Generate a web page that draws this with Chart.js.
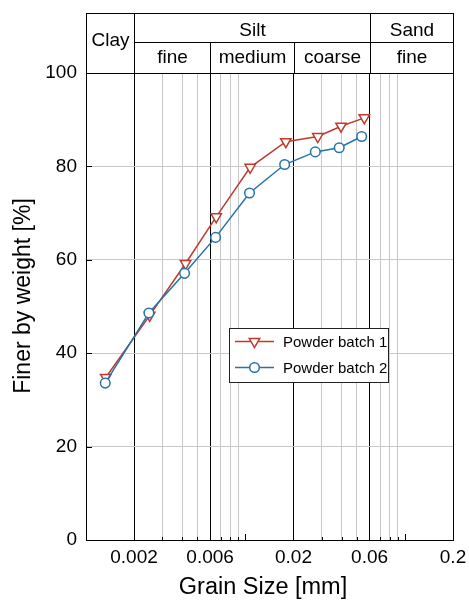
<!DOCTYPE html>
<html>
<head>
<meta charset="utf-8">
<script src="https://cdn.jsdelivr.net/npm/chart.js@4/dist/chart.umd.min.js"></script>
<style>
  body { margin: 0; background: #fff; }
</style>
</head>
<body>
<canvas id="chart_dest" width="469" height="602"></canvas>
<script>
// dataset
var seriesNames = ["Powder batch 1", "Powder batch 2"];
var sizeBatch1 = [0.00133, 0.00251, 0.00421, 0.00655, 0.0107, 0.0179, 0.0284, 0.0397, 0.0556];
var finerBatch1 = [34.8, 48.1, 59.2, 69.2, 79.8, 85.3, 86.4, 88.6, 90.4];
var sizeBatch2 = [0.00132, 0.00248, 0.00415, 0.00649, 0.0106, 0.0176, 0.0274, 0.0387, 0.0535];
var finerBatch2 = [33.6, 48.6, 57.1, 64.8, 74.3, 80.4, 83.1, 84.0, 86.4];

// x axis ticks
var xTickValues = [0.002, 0.006, 0.02, 0.06, 0.2];
var xTickLabels = ["0.002", "0.006", "0.02", "0.06", "0.2"];
var xClassLines = [0.002, 0.006, 0.02, 0.06];
var xMinorLines = [0.003, 0.004, 0.005, 0.007, 0.008, 0.009, 0.03, 0.04, 0.05, 0.07, 0.08, 0.09];
var xDecadeTicks = [0.001, 0.01, 0.1];
var yTickValues = [0, 20, 40, 60, 80, 100];

// soil classes for the header table
var mainClasses = ["Clay", "Silt", "Sand"];
var mainBounds = [0.001, 0.002, 0.06, 0.2];
var subClasses = ["fine", "medium", "coarse", "fine"];
var subBounds = [0.002, 0.006, 0.02, 0.06, 0.2];

var xTitle = "Grain Size [mm]";
var yTitle = "Finer by weight [%]";

var red = "#bf3a2b";
var blue = "#2473aa";
var gray = "#c8c8c8";
var FONT = "Liberation Sans";

function has(list, v) {
  return list.some(function (x) { return Math.abs(x - v) < 1e-9; });
}

function points(xs, ys) {
  return xs.map(function (x, i) { return { x: x, y: ys[i] }; });
}

Chart.defaults.font.family = FONT;
Chart.defaults.color = "#000";

// header table above the plot, and the axis titles
var headerPlugin = {
  id: "header",
  afterDraw: function (chart) {
    var ctx = chart.ctx;
    var xs = chart.scales.x;
    var a = chart.chartArea;
    var top = 13, mid = 42, bot = a.top;
    function px(v) { return Math.round(xs.getPixelForValue(v)) + 0.5; }
    function line(x1, y1, x2, y2) {
      ctx.beginPath(); ctx.moveTo(x1, y1); ctx.lineTo(x2, y2); ctx.stroke();
    }
    ctx.save();
    ctx.strokeStyle = "#000";
    ctx.lineWidth = 1;
    var L = px(mainBounds[0]), R = px(mainBounds[mainBounds.length - 1]);
    line(L, top + 0.5, R, top + 0.5);
    line(px(mainBounds[1]), mid + 0.5, R, mid + 0.5);
    mainBounds.forEach(function (b) { line(px(b), top, px(b), bot); });
    subBounds.forEach(function (b) { line(px(b), mid, px(b), bot); });

    ctx.fillStyle = "#000";
    ctx.font = "19px '" + FONT + "'";
    ctx.textAlign = "center";
    ctx.textBaseline = "middle";
    mainClasses.forEach(function (name, i) {
      var cx = (px(mainBounds[i]) + px(mainBounds[i + 1])) / 2;
      var cy = i === 0 ? 41 : 30.5;
      ctx.fillText(name, cx, cy);
    });
    subClasses.forEach(function (name, i) {
      var cx = (px(subBounds[i]) + px(subBounds[i + 1])) / 2;
      ctx.fillText(name, cx, 57.5);
    });

    // axis titles
    ctx.font = "23.5px '" + FONT + "'";
    ctx.fillText(xTitle, 263, 588);
    ctx.translate(23.5, 296);
    ctx.rotate(-Math.PI / 2);
    ctx.font = "23px '" + FONT + "'";
    ctx.fillText(yTitle, 0, 0);
    ctx.restore();
  }
};

// inward tick marks and the legend box
var ticksLegendPlugin = {
  id: "ticksLegend",
  afterDraw: function (chart) {
    var ctx = chart.ctx;
    var xs = chart.scales.x, ys = chart.scales.y;
    var a = chart.chartArea;
    ctx.save();
    ctx.strokeStyle = "#000";
    ctx.lineWidth = 1;
    xDecadeTicks.forEach(function (v) {
      var x = Math.round(xs.getPixelForValue(v)) + 0.5;
      ctx.beginPath(); ctx.moveTo(x, a.bottom); ctx.lineTo(x, a.bottom - 6); ctx.stroke();
    });
    xMinorLines.forEach(function (v) {
      var x = Math.round(xs.getPixelForValue(v)) + 0.5;
      ctx.beginPath(); ctx.moveTo(x, a.bottom); ctx.lineTo(x, a.bottom - 3); ctx.stroke();
    });
    yTickValues.forEach(function (v) {
      var y = Math.round(ys.getPixelForValue(v)) + 0.5;
      ctx.beginPath(); ctx.moveTo(a.left, y); ctx.lineTo(a.left + 6, y); ctx.stroke();
    });

    // legend
    var bx = 229.5, by = 328.5, bw = 159, bh = 54;
    ctx.fillStyle = "#fff";
    ctx.fillRect(bx, by, bw, bh);
    ctx.strokeStyle = "#222";
    ctx.strokeRect(bx, by, bw, bh);
    ctx.font = "15px '" + FONT + "'";
    ctx.textAlign = "left";
    ctx.textBaseline = "middle";
    chart.data.datasets.forEach(function (ds, i) {
      var y = 341.5 + i * 26;
      ctx.strokeStyle = ds.borderColor;
      ctx.lineWidth = ds.borderWidth;
      ctx.beginPath(); ctx.moveTo(235, y); ctx.lineTo(274, y); ctx.stroke();
      ctx.fillStyle = "#fff";
      Chart.helpers.drawPoint(ctx, {
        pointStyle: ds.pointStyle,
        rotation: ds.pointRotation || 0,
        radius: ds.pointRadius,
        borderWidth: ds.pointBorderWidth
      }, 254.5, y);
      ctx.fillStyle = "#000";
      ctx.fillText(ds.label, 283, y + 1);
    });
    ctx.restore();
  }
};

var data = {
  datasets: [
    {
      label: seriesNames[0],
      data: points(sizeBatch1, finerBatch1),
      borderColor: red,
      backgroundColor: "#fff",
      borderWidth: 1.5,
      pointStyle: "triangle",
      pointRotation: 180,
      pointRadius: 6,
      pointBorderWidth: 1.5,
      pointBackgroundColor: "#fff",
      pointBorderColor: red,
      order: 1
    },
    {
      label: seriesNames[1],
      data: points(sizeBatch2, finerBatch2),
      borderColor: blue,
      backgroundColor: "#fff",
      borderWidth: 1.5,
      pointStyle: "circle",
      pointRadius: 4.8,
      pointBorderWidth: 1.5,
      pointBackgroundColor: "#fff",
      pointBorderColor: blue,
      order: 0
    }
  ]
};

var options = {
  responsive: false,
  animation: false,
  devicePixelRatio: 1,
  layout: { padding: { top: 73, right: 16, left: 0, bottom: 0 } },
  plugins: { legend: { display: false }, tooltip: { enabled: false } },
  scales: {
    x: {
      type: "logarithmic",
      min: 0.001,
      max: 0.2,
      afterBuildTicks: function (scale) {
        var vals = xDecadeTicks.concat(xClassLines, xMinorLines, [0.2]);
        vals.sort(function (p, q) { return p - q; });
        scale.ticks = vals.map(function (v) { return { value: v }; });
      },
      afterFit: function (scale) {
        scale.height = 62;
        scale.paddingLeft = 0;
        scale.paddingRight = 0;
      },
      ticks: {
        autoSkip: false,
        maxRotation: 0,
        padding: 6,
        font: { size: 19 },
        callback: function (value) {
          for (var i = 0; i < xTickValues.length; i++) {
            if (Math.abs(xTickValues[i] - value) < 1e-9) return xTickLabels[i];
          }
          return "";
        }
      },
      grid: {
        drawTicks: false,
        lineWidth: 1,
        color: function (c) {
          var v = c.tick ? c.tick.value : null;
          if (v === null) return "rgba(0,0,0,0)";
          if (has(xClassLines, v) || has([0.2], v)) return "#000";
          if (has(xMinorLines, v)) return gray;
          return "rgba(0,0,0,0)";
        }
      },
      border: { display: true, color: "#000", width: 1 }
    },
    y: {
      min: 0,
      max: 100,
      afterBuildTicks: function (scale) {
        scale.ticks = yTickValues.map(function (v) { return { value: v }; });
      },
      afterFit: function (scale) { scale.width = 86; },
      ticks: {
        padding: 9,
        font: { size: 19 }
      },
      grid: {
        drawTicks: false,
        lineWidth: 1,
        color: function (c) {
          var v = c.tick ? c.tick.value : null;
          if (v === 100) return "#000";
          if (v === 0 || v === null) return "rgba(0,0,0,0)";
          return gray;
        }
      },
      border: { display: true, color: "#000", width: 1 }
    }
  }
};

var ctx = document.getElementById("chart_dest");

var grainChart = new Chart(ctx, {
  type: "line",
  data: data,
  options: options,
  plugins: [headerPlugin, ticksLegendPlugin]
});
</script>
</body>
</html>
